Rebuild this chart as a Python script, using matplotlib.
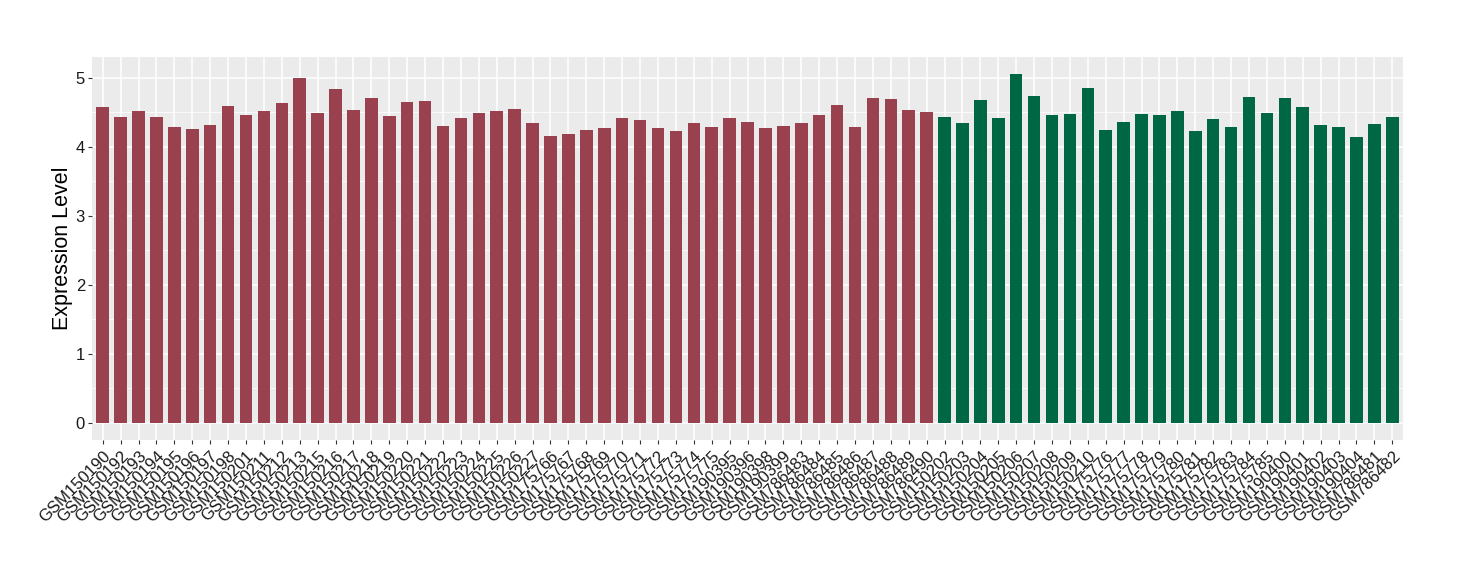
import numpy as np
import matplotlib
matplotlib.use("Agg")
import matplotlib.pyplot as plt
from matplotlib.ticker import MultipleLocator

plt.rcParams['font.family'] = ['Liberation Sans', 'DejaVu Sans']

# group 1 (red) samples and values
red_samples = ["GSM150190", "GSM150192", "GSM150193", "GSM150194", "GSM150195",
               "GSM150196", "GSM150197", "GSM150198", "GSM150201", "GSM150211",
               "GSM150212", "GSM150213", "GSM150215", "GSM150216", "GSM150217",
               "GSM150218", "GSM150219", "GSM150220", "GSM150221", "GSM150222",
               "GSM150223", "GSM150224", "GSM150225", "GSM150226", "GSM150227",
               "GSM175766", "GSM175767", "GSM175768", "GSM175769", "GSM175770",
               "GSM175771", "GSM175772", "GSM175773", "GSM175774", "GSM175775",
               "GSM190395", "GSM190396", "GSM190398", "GSM190399", "GSM786483",
               "GSM786484", "GSM786485", "GSM786486", "GSM786487", "GSM786488",
               "GSM786489", "GSM786490"]
red_values = [4.575, 4.43, 4.52, 4.43, 4.285, 4.256, 4.314, 4.59, 4.46, 4.52,
              4.63, 4.995, 4.49, 4.836, 4.53, 4.705, 4.444, 4.647, 4.66, 4.30,
              4.415, 4.49, 4.52, 4.546, 4.343,
              4.15, 4.179, 4.237, 4.266, 4.41, 4.382, 4.266, 4.222, 4.338, 4.28,
              4.41, 4.353, 4.266, 4.295, 4.338, 4.454, 4.599, 4.28, 4.70, 4.686,
              4.527, 4.498]

# group 2 (green)
green_samples = ["GSM150202", "GSM150203", "GSM150204", "GSM150205", "GSM150206",
                 "GSM150207", "GSM150208", "GSM150209", "GSM150210", "GSM175776",
                 "GSM175777", "GSM175778", "GSM175779", "GSM175780", "GSM175781",
                 "GSM175782", "GSM175783", "GSM175784", "GSM175785", "GSM190400",
                 "GSM190401", "GSM190402", "GSM190403", "GSM190404", "GSM786481",
                 "GSM786482"]
green_values = [4.425, 4.338, 4.67, 4.41, 5.048, 4.729, 4.454, 4.469, 4.845, 4.237,
                4.353, 4.469, 4.454, 4.512, 4.222, 4.396, 4.28, 4.715, 4.483, 4.70,
                4.575, 4.309, 4.28, 4.135, 4.324, 4.425]

samples = red_samples + green_samples
values = red_values + green_values
colors = ["#9A4150"] * len(red_samples) + ["#006745"] * len(green_samples)

fig = plt.figure(figsize=(14.6, 5.8), dpi=100)
ax = fig.add_axes([0.063, 0.241, 0.898, 0.661])
ax.set_facecolor("#EBEBEB")

x = np.arange(1, len(samples) + 1)
ax.bar(x, values, width=0.7, color=colors, zorder=3)

ax.set_xlim(0.4, len(samples) + 0.6)
ymax = max(values)
ax.set_ylim(-0.05 * ymax, ymax * 1.05)

ax.yaxis.set_major_locator(MultipleLocator(1))
ax.yaxis.set_minor_locator(MultipleLocator(0.5))
ax.grid(which="major", color="white", linewidth=1.1, zorder=0)
ax.grid(which="minor", axis="y", color="white", linewidth=0.55, zorder=0)
ax.set_axisbelow(True)

ax.set_xticks(x)
ax.set_xticklabels(samples, rotation=45, ha="right", rotation_mode="anchor",
                   fontsize=12, color="#1A1A1A")
ax.tick_params(axis="both", which="major", length=3, width=0.8, color="#333333")
ax.tick_params(axis="y", which="minor", length=0)
ax.tick_params(axis="y", labelsize=12, labelcolor="#1A1A1A", pad=2)
ax.tick_params(axis="x", pad=3)

for s in ax.spines.values():
    s.set_visible(False)

ax.set_ylabel("Expression Level", fontsize=15.5)
ax.yaxis.set_label_coords(-0.0145, 0.5)

fig.savefig("out.png", dpi=100)
